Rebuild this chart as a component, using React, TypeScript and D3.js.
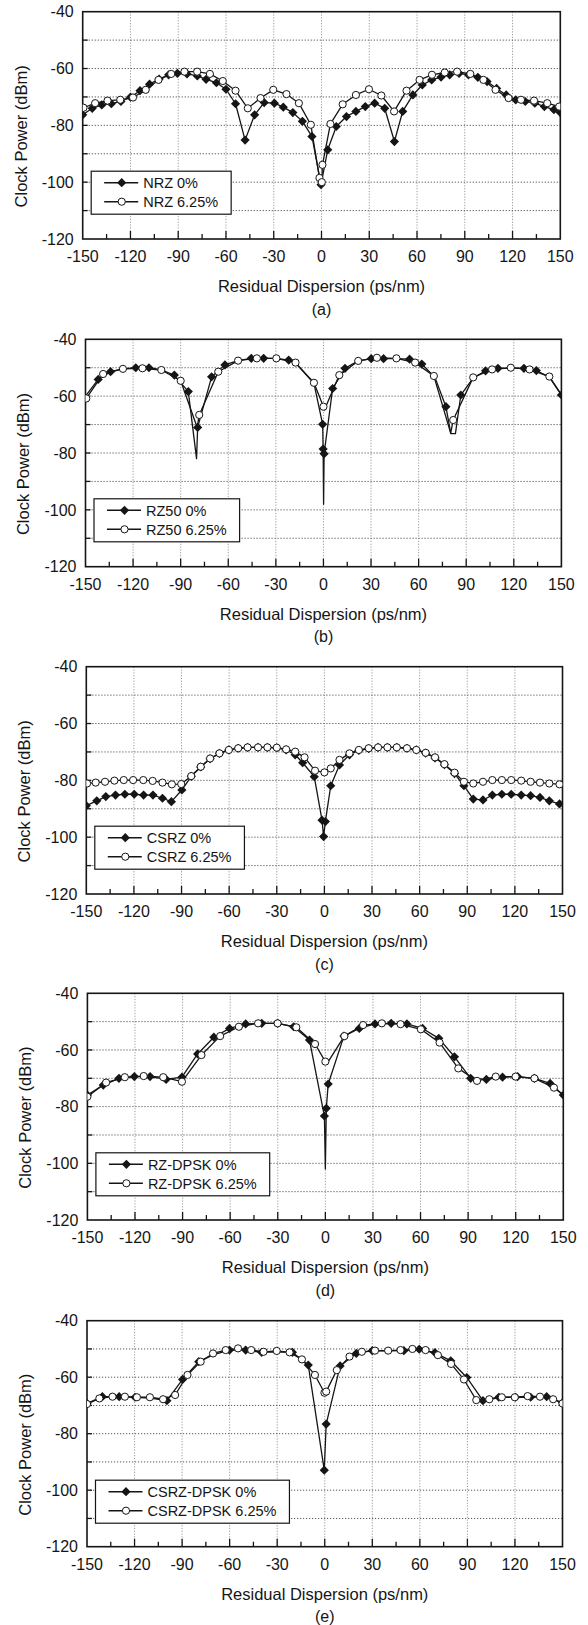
import React, { useEffect, useRef } from "react";
import * as d3 from "d3";

// [x (ps/nm), clock power (dBm), 0 = no marker]
type Pt = [number, number, number?];

const xTickValues = [-150, -120, -90, -60, -30, 0, 30, 60, 90, 120, 150];
const xMinorTicks = [-135, -105, -75, -45, -15, 15, 45, 75, 105, 135];
const yTickValues = [-40, -60, -80, -100, -120];
const yGridValues = [-50, -60, -70, -80, -90, -100, -110];
const panelLetters = ["(a)", "(b)", "(c)", "(d)", "(e)"];
const seriesNames = [
  ["NRZ 0%", "NRZ 6.25%"],
  ["RZ50 0%", "RZ50 6.25%"],
  ["CSRZ 0%", "CSRZ 6.25%"],
  ["RZ-DPSK 0%", "RZ-DPSK 6.25%"],
  ["CSRZ-DPSK 0%", "CSRZ-DPSK 6.25%"],
];

const nrz0: Pt[] = [
  [-150, -76.3], [-144, -74], [-138, -72.8], [-132, -72.4], [-126, -71.6], [-120, -70.1],
  [-114, -67.8], [-108, -65.5], [-102, -63.7], [-96, -62.2], [-90.5, -61.7], [-84.5, -61.9],
  [-78, -62.6], [-72.5, -63.8], [-66, -65], [-60, -67.3], [-54, -72.4], [-48, -85.2],
  [-42, -76.3], [-36, -72], [-29.6, -72.2], [-24, -73.6], [-18, -75.5], [-12, -78.6],
  [-6, -83.9], [-0.3, -100.9], [3.9, -88.6], [9.3, -80.4], [15.7, -76.9], [21.6, -75.1],
  [27.5, -73.4], [33.4, -72.2], [39.7, -74], [45.8, -85.7], [51, -75.1], [57.4, -69.3],
  [63.3, -65.8], [69.2, -64], [75.1, -63], [80.5, -62.2], [86.4, -61.7], [92.3, -62.2],
  [98.2, -63.1], [104, -64.6], [110, -67], [116, -69.3], [122, -71], [128, -71.6],
  [134, -72.2], [140, -73.4], [146, -74.5], [150, -75.5],
];
const nrz625: Pt[] = [
  [-149.5, -73.8], [-142.2, -72.2], [-134.4, -71.3], [-126.4, -71], [-118.4, -70.2],
  [-110.4, -67.5], [-102.4, -64], [-94.4, -61.9], [-86.1, -61.1], [-78.1, -61.1],
  [-70.1, -61.9], [-62, -64.4], [-54, -67.8], [-46.3, -74], [-38.3, -70.4], [-30.3, -67.5],
  [-22, -69], [-14.2, -72.2], [-6.7, -79.8], [-1.3, -98.5], [0.2, -100], [0.6, -93.9],
  [5.6, -79.5], [13.3, -72.6], [21.6, -69.3], [29.8, -67.3], [37.6, -69.5], [45.6, -75.1],
  [53.4, -67.8], [61.6, -64], [69.4, -62.2], [77.4, -61.4], [85.2, -61.1], [93.5, -61.9],
  [101.7, -64], [109.3, -67.5], [117.5, -70.4], [125.3, -71], [133.5, -71.3], [141.8, -72.2],
  [149.3, -73.4],
];

const rz0: Pt[] = [
  [-150, -60, 0], [-142, -54.1], [-134.2, -51.4], [-126.4, -50.4, 0], [-118.3, -50], [-110, -50],
  [-102, -50.8, 0], [-94, -52.6], [-85.2, -58.4], [-80, -82, 0], [-79.3, -71], [-70.5, -53.2],
  [-62.1, -49], [-54, -47.5, 0], [-45.5, -46.7], [-37.7, -46.7], [-29.7, -46.7, 0], [-21.9, -47.3],
  [-17.6, -48.4, 0], [-6, -55.5, 0], [-0.5, -69.9], [-0.2, -78.6], [0.1, -98, 0], [0.4, -80.3],
  [5.8, -57.3], [13.6, -50.2], [21.9, -47.6, 0], [30.1, -46.8], [37.9, -46.8], [46, -46.8, 0],
  [54.3, -47], [62, -48.7], [70.3, -53.4, 0], [77.2, -63.7], [80.3, -73.2, 0], [83.2, -73.2, 0],
  [86.6, -59.6], [94.4, -53.6, 0], [102.2, -51.1], [110, -50.2], [118.1, -50.1, 0], [126.4, -50.2],
  [134.2, -51], [142.4, -53.3, 0], [150, -59.6],
];
const rz625: Pt[] = [
  [-149.5, -60.8], [-138.9, -52.2], [-126.4, -50.4], [-114.1, -50.2], [-102.2, -50.8],
  [-90, -54.6], [-79.6, -71, 0], [-78.3, -66.6], [-66.3, -51.4], [-53.8, -47.5], [-42, -46.7],
  [-29.7, -46.7], [-17.6, -48.2], [-6, -55.3], [0, -63.7], [0.5, -65, 0], [10, -52.6],
  [21.9, -47.6], [33.7, -46.5], [46, -46.7], [57.8, -48.2], [69.6, -52.9], [80.2, -73, 0],
  [81.8, -68.4], [94.4, -53.4], [106.3, -50.6], [118.1, -50], [129.9, -50.6], [142.4, -53.1],
  [150, -59.5, 0],
];

const csrz0: Pt[] = [
  [-150, -88.9], [-143.4, -87.2], [-137.7, -85.7], [-131.6, -85.2], [-125.7, -84.9],
  [-119.8, -84.9], [-113.9, -85.2], [-108, -85.2], [-102, -86.3], [-96.4, -87.5],
  [-89.8, -83.4], [-83.9, -78.6], [-77.9, -75.3], [-72, -72.4], [-66.1, -70.5], [-60.2, -69.3],
  [-54.3, -68.7], [-48.4, -68.4], [-41.8, -68.4], [-35.9, -68.4], [-30, -68.6], [-24.1, -69.3],
  [-18.4, -71], [-13.7, -73.8], [-6.4, -78.7], [-1.5, -94], [-0.5, -99.8], [0.6, -94.5],
  [4, -81.9], [9.5, -74.6], [15.8, -71], [21.7, -69.5], [27.9, -68.8], [33.8, -68.4],
  [39.7, -68.4], [45.6, -68.4], [52, -68.7], [57.9, -69.3], [63.8, -70.4], [69.7, -72.1],
  [75.6, -74.5], [82, -77.6], [87.9, -81.9], [93.8, -86.6], [99.9, -86.9], [105.8, -85.2],
  [111.8, -84.9], [117.7, -84.9], [124, -85.2], [129.9, -85.4], [135.8, -86], [141.7, -87.2],
  [148.1, -88.3], [150, -88.8, 0],
];
const csrz625: Pt[] = [
  [-149.5, -81.1], [-144.1, -80.8], [-138.2, -80.5], [-132.3, -80.1], [-126.4, -79.9],
  [-120.5, -79.9], [-114.1, -79.9], [-108.2, -80.2], [-102, -80.8], [-96.1, -81.4],
  [-90.2, -81.3], [-83.9, -78.5], [-77.9, -75.2], [-72, -72.3], [-66.1, -70.5], [-60.2, -69.3],
  [-54.3, -68.7], [-48.4, -68.4], [-41.8, -68.4], [-35.9, -68.4], [-30, -68.5], [-24.1, -69.1],
  [-18.4, -69.9], [-12.5, -71.9], [-5.9, -76.6], [0, -77.2], [4, -75.8], [9.5, -72.8],
  [15.8, -70.5], [21.7, -69.3], [27.9, -68.7], [33.8, -68.4], [39.7, -68.4], [45.6, -68.4],
  [52, -68.7], [57.9, -69.3], [63.8, -70.3], [69.7, -71.9], [75.6, -74.3], [82, -77.3],
  [87.9, -80.5], [93.8, -81.1], [99.9, -80.5], [105.8, -79.9], [111.8, -79.9], [117.7, -79.9],
  [124, -80.1], [129.9, -80.5], [135.8, -80.8], [141.7, -81.1], [148.1, -81.4],
];

const rzd0: Pt[] = [
  [-150, -75.9], [-140, -72.4], [-130.1, -70], [-120.4, -69.4], [-110.5, -69.4], [-100.4, -70.4],
  [-90.4, -69.6], [-80.5, -61.4], [-70.3, -55.5], [-60.4, -52.4], [-50.2, -50.8], [-40.1, -50.6],
  [-30.1, -50.6], [-20, -51.8], [-10, -56.5], [-0.6, -83.3], [0, -102, 0], [0.6, -80.6],
  [1.8, -72], [11.7, -55.1], [21.4, -52.4], [31.3, -50.8], [41.5, -50.6], [51.4, -50.8],
  [61.3, -52.4], [71.5, -55.9], [81.4, -62.4], [91.6, -70], [101.5, -70.4], [111.7, -69.6],
  [121.2, -69.4], [131.8, -70], [141.7, -71.8], [150, -75.9],
];
const rzd625: Pt[] = [
  [-150, -76.5], [-138.2, -71.5], [-126.4, -69.6], [-114.5, -69.2], [-102.2, -69.6],
  [-90.4, -71.2], [-78.1, -61.8], [-66.3, -55.1], [-54.5, -51.8], [-42.4, -50.6], [-30.1, -50.6],
  [-18.3, -52], [-6.5, -57.9], [0, -64.1], [0.8, -65, 0], [12, -55.1], [23.8, -51.2],
  [35.6, -50.6], [47.4, -50.9], [60.2, -52.7], [72, -57.4], [83.8, -66.5], [95.6, -70.9],
  [107.4, -69.4], [119.9, -69.4], [131.8, -70], [144.1, -73.3], [150, -75.9, 0],
];

const csrzd0: Pt[] = [
  [-150, -69.3], [-140.3, -66.9], [-129.7, -66.9], [-119.7, -67.1], [-110, -67.4, 0],
  [-99.6, -68.3], [-89.7, -60.8], [-79.5, -54.5], [-70, -52, 0], [-60.1, -50.4], [-49.9, -50.4],
  [-39.8, -51.2], [-30, -51, 0], [-20.4, -51.2], [-10.4, -55.7], [-0.3, -92.9], [0.9, -76.6],
  [9.7, -56], [19.9, -51.6], [30, -50.6], [40, -50.7, 0], [49.9, -50.6], [59.6, -50.1],
  [69.5, -51.3], [79.5, -54.2], [89.6, -60.1], [99.8, -68.3], [109.8, -67.1], [120.4, -67.1],
  [129.9, -67.1], [140, -66.9], [150, -69],
];
const csrzd625: Pt[] = [
  [-150, -69.5], [-142.2, -67.5], [-133.9, -66.9], [-126.1, -66.9], [-118.5, -67.1],
  [-110.3, -67.1], [-102, -67.8], [-94.4, -66.3], [-86.6, -59.2], [-78.3, -54.5], [-70.5, -51.6],
  [-62.5, -50.4], [-54.7, -49.8], [-46.4, -50.4], [-38.6, -51], [-30.3, -50.7], [-22.2, -51.2],
  [-14.4, -53.7], [-6.2, -59.2], [-0.2, -65.5], [0.9, -65.1], [7.6, -57.5], [15.6, -52.7],
  [23.4, -51], [31.7, -50.6], [40, -50.6], [47.8, -50.4], [55.3, -50], [63.6, -50.4],
  [71.4, -52.2], [79.7, -55.3], [87.8, -60.8], [95.6, -68.1], [103.8, -67.8], [111.7, -67.1],
  [119.9, -67.1], [128, -66.7], [135.8, -66.9], [144.1, -67.8], [150, -69.3],
];

const panelSeries: Pt[][][] = [
  [nrz0, nrz625],
  [rz0, rz625],
  [csrz0, csrz625],
  [rzd0, rzd625],
  [csrzd0, csrzd625],
];

// plot frames in page pixels
const frames = [
  { top: 11.7, bottom: 239, left: 82.7, right: 560.3 },
  { top: 339.3, bottom: 566.7, left: 85.5, right: 561.4 },
  { top: 666.7, bottom: 894, left: 86.3, right: 562.5 },
  { top: 993.3, bottom: 1220, left: 87.4, right: 563.3 },
  { top: 1320.7, bottom: 1546.7, left: 87, right: 562.5 },
];

const FONT = "'Liberation Sans', Arial, Helvetica, sans-serif";
const INK = "#151515";

const diamondPath = (r: number) => `M0,${-r}L${r},0L0,${r}L${-r},0Z`;

const App = () => {
  const svgRef = useRef<SVGSVGElement>(null);

  useEffect(() => {
    const svg = d3.select(svgRef.current);
    svg.selectAll("*").remove();
    svg.attr("width", 588).attr("height", 1625);
    svg.append("rect").attr("width", 588).attr("height", 1625).attr("fill", "#fff");

    frames.forEach((f, pi) => {
      const x = d3.scaleLinear().domain([-150, 150]).range([f.left, f.right]);
      const y = d3.scaleLinear().domain([-120, -40]).range([f.bottom, f.top]);
      const g = svg.append("g");
      const clipId = `clip-${pi}`;
      g.append("clipPath").attr("id", clipId)
        .append("rect")
        .attr("x", f.left).attr("y", f.top)
        .attr("width", f.right - f.left).attr("height", f.bottom - f.top);

      // grid
      g.selectAll(".gx").data(xTickValues.slice(1, -1)).enter().append("line")
        .attr("x1", d => x(d)).attr("x2", d => x(d))
        .attr("y1", f.top).attr("y2", f.bottom)
        .attr("stroke", "#9a9a9a").attr("stroke-width", 1)
        .attr("stroke-dasharray", "1.2,1.6");
      g.selectAll(".gy").data(yGridValues).enter().append("line")
        .attr("x1", f.left).attr("x2", f.right)
        .attr("y1", d => y(d)).attr("y2", d => y(d))
        .attr("stroke", "#555").attr("stroke-width", 1)
        .attr("stroke-dasharray", "1.2,1.8");

      // ticks (inside)
      g.selectAll(".tx").data(xTickValues.slice(1, -1)).enter().append("line")
        .attr("x1", d => x(d)).attr("x2", d => x(d))
        .attr("y1", f.bottom).attr("y2", f.bottom - 8)
        .attr("stroke", INK).attr("stroke-width", 1.3);
      g.selectAll(".tm").data(xMinorTicks).enter().append("line")
        .attr("x1", d => x(d)).attr("x2", d => x(d))
        .attr("y1", f.bottom).attr("y2", f.bottom - 5)
        .attr("stroke", INK).attr("stroke-width", 1.3);
      g.selectAll(".ty").data(yGridValues).enter().append("line")
        .attr("x1", f.left).attr("x2", f.left + 5)
        .attr("y1", d => y(d)).attr("y2", d => y(d))
        .attr("stroke", INK).attr("stroke-width", 1.3);

      // frame
      g.append("rect")
        .attr("x", f.left).attr("y", f.top)
        .attr("width", f.right - f.left).attr("height", f.bottom - f.top)
        .attr("fill", "none").attr("stroke", INK).attr("stroke-width", 1.6);

      // tick labels
      g.selectAll(".lx").data(xTickValues).enter().append("text")
        .attr("x", d => x(d)).attr("y", f.bottom + 17.7).attr("dy", "0.36em")
        .attr("text-anchor", "middle")
        .attr("font-family", FONT).attr("font-size", 16).attr("fill", INK)
        .text(d => d);
      g.selectAll(".ly").data(yTickValues).enter().append("text")
        .attr("x", f.left - 9).attr("y", d => y(d)).attr("dy", "0.36em")
        .attr("text-anchor", "end")
        .attr("font-family", FONT).attr("font-size", 16).attr("fill", INK)
        .text(d => d);

      // titles
      g.append("text")
        .attr("x", (f.left + f.right) / 2).attr("y", f.bottom + 47).attr("dy", "0.36em")
        .attr("text-anchor", "middle")
        .attr("font-family", FONT).attr("font-size", 16.5).attr("fill", INK)
        .text("Residual Dispersion (ps/nm)");
      const yc = (f.top + f.bottom) / 2 + 11;
      g.append("text")
        .attr("transform", `translate(${f.left - 62},${yc}) rotate(-90)`)
        .attr("dy", "0.36em")
        .attr("text-anchor", "middle")
        .attr("font-family", FONT).attr("font-size", 16.5).attr("fill", INK)
        .text("Clock Power (dBm)");
      g.append("text")
        .attr("x", (f.left + f.right) / 2).attr("y", f.bottom + 70).attr("dy", "0.36em")
        .attr("text-anchor", "middle")
        .attr("font-family", FONT).attr("font-size", 16).attr("fill", INK)
        .text(panelLetters[pi]);

      // series
      const line = d3.line<Pt>().x(d => x(d[0])).y(d => y(d[1]));
      const plot = g.append("g").attr("clip-path", `url(#${clipId})`);
      panelSeries[pi].forEach(pts => {
        plot.append("path").datum(pts)
          .attr("d", line)
          .attr("fill", "none").attr("stroke", INK).attr("stroke-width", 1.3)
          .attr("stroke-linejoin", "round");
      });
      panelSeries[pi].forEach((pts, si) => {
        const marked = pts.filter(p => p[2] !== 0);
        if (si === 0) {
          plot.selectAll(`.dm${si}`).data(marked).enter().append("path")
            .attr("d", diamondPath(4.6))
            .attr("transform", d => `translate(${x(d[0])},${y(d[1])})`)
            .attr("fill", INK);
        } else {
          plot.selectAll(`.cm${si}`).data(marked).enter().append("circle")
            .attr("cx", d => x(d[0])).attr("cy", d => y(d[1])).attr("r", 3.6)
            .attr("fill", "#fff").attr("stroke", INK).attr("stroke-width", 1);
        }
      });

      // legend
      const bx = f.left + 8.5;
      const by = f.top + 159.5;
      const leg = g.append("g");
      const box = leg.append("rect")
        .attr("x", bx).attr("y", by).attr("height", 43)
        .attr("fill", "#fff").attr("stroke", INK).attr("stroke-width", 1.2);
      let maxW = 0;
      seriesNames[pi].forEach((name, si) => {
        const ry = by + 11.5 + si * 19;
        leg.append("line")
          .attr("x1", bx + 13).attr("x2", bx + 47).attr("y1", ry).attr("y2", ry)
          .attr("stroke", INK).attr("stroke-width", 1.5);
        if (si === 0) {
          leg.append("path").attr("d", diamondPath(4.6))
            .attr("transform", `translate(${bx + 30.5},${ry})`).attr("fill", INK);
        } else {
          leg.append("circle").attr("cx", bx + 30.5).attr("cy", ry).attr("r", 3.6)
            .attr("fill", "#fff").attr("stroke", INK).attr("stroke-width", 1);
        }
        const t = leg.append("text")
          .attr("x", bx + 52).attr("y", ry).attr("dy", "0.36em")
          .attr("font-family", FONT).attr("font-size", 14.5).attr("fill", INK)
          .text(name);
        const node = t.node() as SVGTextElement;
        maxW = Math.max(maxW, node.getComputedTextLength());
      });
      box.attr("width", 52 + maxW + 13);
    });
  }, []);

  return (
    <svg ref={svgRef} style={{ position: "absolute", left: 0, top: 0 }} />
  );
};

export default App;
